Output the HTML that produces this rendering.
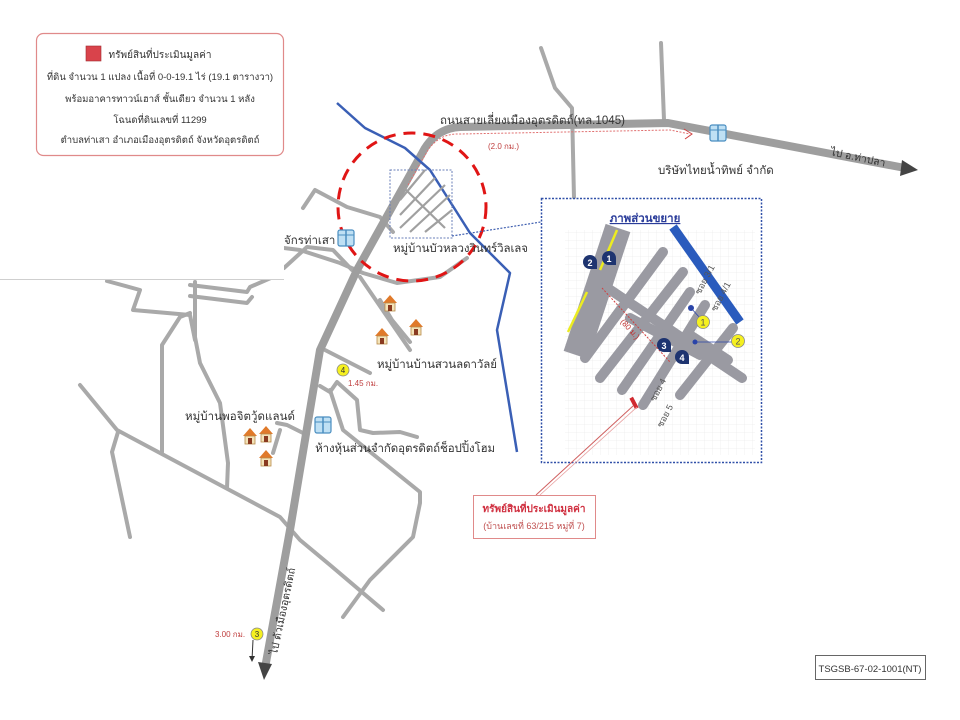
<!DOCTYPE html>
<html><head><meta charset="utf-8"><style>
html,body{margin:0;padding:0;background:#fff;}
svg{display:block}
text{font-family:"Liberation Sans","Noto Sans CJK SC",sans-serif;}
</style></head><body>
<svg width="960" height="720" viewBox="0 0 960 720" xmlns="http://www.w3.org/2000/svg">
<defs>
<g id="house"><polygon points="-7,0 0,-8 7,0" fill="#e07a2a"/><rect x="-5" y="0" width="10" height="8" fill="#f3e3b8" stroke="#b88a4a" stroke-width="0.8"/><rect x="-2" y="2" width="4" height="6" fill="#8a3a20"/></g>
<g id="bld"><rect x="-8" y="-8" width="16" height="16" rx="2" fill="#bfe0f4" stroke="#4a8ec0" stroke-width="1.2"/><line x1="0" y1="-8" x2="0" y2="8" stroke="#4a8ec0" stroke-width="1.5"/><line x1="-8" y1="-3" x2="8" y2="-3" stroke="#4a8ec0" stroke-width="1"/></g>
<pattern id="grid" width="8" height="8" patternUnits="userSpaceOnUse"><path d="M8 0H0V8" fill="none" stroke="#ececec" stroke-width="0.8"/></pattern>
<clipPath id="inset"><rect x="542" y="199" width="219" height="263"/></clipPath>
</defs>
<g fill="none" stroke="#a9a9a9" stroke-width="4" stroke-linejoin="round" stroke-linecap="round">
<path d="M541,48 L555,88 L572,108 L574,198"/>
<path d="M661,43 L664,120"/>
<path d="M80,385 L117,430 L280,517 L300,540 L330,565 L383,610"/>
<path d="M118,432 L112,452 L130,537"/>
<path d="M162,452 L162,345 L180,317 L190,313"/>
<path d="M227,488 L228,463 L220,403 L200,363 L195,337 L195,282"/>
<path d="M107,281 L140,290 L133,310 L190,315 L195,340"/>
<path d="M190,285 L247,292 L250,287 L273,277"/>
<path d="M190,296 L247,303 L252,297"/>
<path d="M284,268 L307,247 L333,250 L352,270"/>
<path d="M303,208 L315,190 L347,207 L380,217 L393,232"/>
<path d="M284,248 L300,250 L340,263 L363,273 L397,283 L440,277 L467,258"/>
<path d="M360,277 L410,350"/>
<path d="M380,300 L392,320 L410,342"/>
<path d="M325,350 L370,373"/>
<path d="M320,386 L330,392 L337,382 L357,400 L360,430 L373,433 L400,432 L417,437"/>
<path d="M330,390 L343,430 L420,492 L420,503 L413,537 L370,580 L343,617"/>
<path d="M277,423 L287,425 L303,433"/>
<path d="M280,430 L273,453"/>
</g>
<path d="M265,668 L290,530 L320,350 L357,270 L425,148 Q438,128 460,127 L668,123 L905,168" fill="none" stroke="#9e9e9e" stroke-width="8" stroke-linejoin="round"/>
<polygon points="258,662 272,664 264,680" fill="#444"/>
<polygon points="902,160 918,170 900,176" fill="#444"/>
<path d="M408,185 L428,150 Q440,133 460,134 L670,130 L690,134" fill="none" stroke="#e07070" stroke-width="1" stroke-dasharray="2,1.5"/>
<path d="M684,129 L692,134 L685,139" fill="none" stroke="#d04040" stroke-width="1"/>
<path d="M337,103 L365,128 L405,148 L430,170 L470,233 L510,273 L497,330 L517,452" fill="none" stroke="#3a5fb5" stroke-width="2.5" stroke-linejoin="round"/>
<rect x="390" y="170" width="62" height="68" fill="none" stroke="#6a7fb8" stroke-width="1" stroke-dasharray="2,1.5"/>
<g stroke="#a0a0a0" stroke-width="2.2">
<line x1="400" y1="200" x2="425" y2="170"/><line x1="400" y1="215" x2="435" y2="178"/><line x1="400" y1="228" x2="445" y2="185"/><line x1="410" y1="232" x2="450" y2="195"/><line x1="425" y1="232" x2="452" y2="210"/>
<line x1="404" y1="188" x2="445" y2="228"/>
</g>
<rect x="346" y="232" width="2" height="10" fill="#c02020" transform="rotate(-30 347 237)"/>
<circle cx="412" cy="207" r="74" fill="none" stroke="#e01515" stroke-width="3" stroke-dasharray="12,8"/>
<rect x="0" y="0" width="284" height="279" fill="#fff"/>
<line x1="0" y1="279.5" x2="284" y2="279.5" stroke="#cfcfcf" stroke-width="1"/>
<rect x="36.5" y="33.5" width="247" height="122" rx="7" fill="#fff" stroke="#e08a8a" stroke-width="1.2"/>
<rect x="86" y="46" width="15" height="15" fill="#d9434b" stroke="#a02a30" stroke-width="0.6"/>
<g font-size="9.5" fill="#333" text-anchor="middle">
<text x="160" y="58" font-size="10">ทรัพย์สินที่ประเมินมูลค่า</text>
<text x="160" y="80">ที่ดิน จำนวน 1 แปลง เนื้อที่ 0-0-19.1 ไร่ (19.1 ตารางวา)</text>
<text x="160" y="102">พร้อมอาคารทาวน์เฮาส์ ชั้นเดียว จำนวน 1 หลัง</text>
<text x="160" y="123">โฉนดที่ดินเลขที่ 11299</text>
<text x="160" y="143">ตำบลท่าเสา  อำเภอเมืองอุตรดิตถ์  จังหวัดอุตรดิตถ์</text>
</g>
<use href="#bld" x="346" y="238"/><use href="#bld" x="323" y="425"/><use href="#bld" x="718" y="133"/>
<use href="#house" x="390" y="303"/><use href="#house" x="382" y="336"/><use href="#house" x="416" y="327"/>
<use href="#house" x="250" y="436"/><use href="#house" x="266" y="434"/><use href="#house" x="266" y="458"/>
<g font-size="11.5" fill="#333">
<text x="440" y="124" textLength="185">ถนนสายเลี่ยงเมืองอุตรดิตถ์(ทล.1045)</text>
<text x="658" y="174">บริษัทไทยน้ำทิพย์ จำกัด</text>
<text x="284" y="244">จักรท่าเสา</text>
<text x="393" y="252" textLength="135">หมู่บ้านบัวหลวงวินทร์วิลเลจ</text>
<text x="377" y="368" textLength="120">หมู่บ้านบ้านสวนลดาวัลย์</text>
<text x="185" y="420" textLength="110">หมู่บ้านพอจิตวู้ดแลนด์</text>
<text x="315" y="452" textLength="180">ห้างหุ้นส่วนจำกัดอุตรดิตถ์ช็อปปิ้งโฮม</text>
<text x="830" y="155" font-size="10.5" transform="rotate(12 830 155)">ไป อ.ท่าปลา</text>
<text x="277" y="655" font-size="10.5" transform="rotate(-78 277 655)">ไป ตัวเมืองอุตรดิตถ์</text>
</g>
<g font-size="8" fill="#c04040">
<text x="488" y="149">(2.0 กม.)</text>
<text x="348" y="386">1.45 กม.</text>
<text x="215" y="637">3.00 กม.</text>
</g>
<circle cx="343" cy="370" r="6" fill="#f5f020" stroke="#888" stroke-width="0.8"/><text x="343" y="373" font-size="8" text-anchor="middle" fill="#333">4</text>
<circle cx="257" cy="634" r="6" fill="#f5f020" stroke="#888" stroke-width="0.8"/><text x="257" y="637" font-size="8" text-anchor="middle" fill="#333">3</text>
<path d="M253,640 L252,660" stroke="#333" stroke-width="1"/><polygon points="249,656 255,656 252,662" fill="#333"/>
<path d="M452,236 L541,222" stroke="#4060b0" stroke-width="1.2" stroke-dasharray="2,1.5"/>
<rect x="541.5" y="198.5" width="220" height="264" fill="#fff" stroke="#3050a8" stroke-width="1.5" stroke-dasharray="2,1.5"/>
<rect x="565" y="230" width="190" height="225" fill="url(#grid)"/>
<text x="645" y="222" font-size="11.5" font-weight="bold" fill="#2a3c9a" text-anchor="middle" text-decoration="underline">ภาพส่วนขยาย</text>
<g clip-path="url(#inset)">
<line x1="618" y1="228" x2="576" y2="355" stroke="#9a9aa2" stroke-width="26"/>
<line x1="617" y1="230" x2="600" y2="270" stroke="#ecec20" stroke-width="2.5"/>
<line x1="587" y1="292" x2="568" y2="332" stroke="#ecec20" stroke-width="2.5"/>
<line x1="673" y1="227" x2="740" y2="322" stroke="#2a5bbd" stroke-width="9"/>
<g stroke="#9a9aa2" stroke-width="10" stroke-linecap="round">
<line x1="603" y1="285" x2="742" y2="378"/>
<line x1="663" y1="252" x2="585" y2="358"/>
<line x1="683" y1="272" x2="600" y2="378"/>
<line x1="690" y1="292" x2="622" y2="390"/>
<line x1="705" y1="305" x2="643" y2="405"/>
<line x1="733" y1="328" x2="680" y2="395"/>
<line x1="690" y1="335" x2="728" y2="360"/>
<line x1="630" y1="318" x2="700" y2="355"/>
</g>
</g>
<path d="M602,288 L670,362" stroke="#d04040" stroke-width="1" stroke-dasharray="2,1.5"/>
<text x="620" y="322" font-size="8" fill="#c03030" transform="rotate(48 620 322)">(80 ม.)</text>
<g font-size="9" fill="#555">
<text x="700" y="295" transform="rotate(-62 700 295)">ซอย 3/1</text>
<text x="716" y="312" transform="rotate(-62 716 312)">ซอย 4/1</text>
<text x="655" y="402" transform="rotate(-62 655 402)">ซอย 4</text>
<text x="662" y="428" transform="rotate(-62 662 428)">ซอย 5</text>
</g>
<rect x="632" y="397" width="4" height="12" fill="#d02a30" transform="rotate(-28 634 403)"/>
<g font-size="9" fill="#fff" text-anchor="middle" font-weight="bold">
<path d="M583,262 a7,7 0 1,1 14,0 l0,7 l-7,0 a7,7 0 0,1 -7,-7z" fill="#1e3470"/><text x="590" y="266">2</text>
<path d="M602,258 a7,7 0 1,1 14,0 l0,7 l-7,0 a7,7 0 0,1 -7,-7z" fill="#1e3470"/><text x="609" y="262">1</text>
<path d="M657,345 a7,7 0 1,1 14,0 l0,7 l-7,0 a7,7 0 0,1 -7,-7z" fill="#1e3470"/><text x="664" y="349">3</text>
<path d="M675,357 a7,7 0 1,1 14,0 l0,7 l-7,0 a7,7 0 0,1 -7,-7z" fill="#1e3470"/><text x="682" y="361">4</text>
</g>
<circle cx="691" cy="308" r="3" fill="#2a44a8"/><circle cx="695" cy="342" r="2.5" fill="#2a44a8"/>
<line x1="691" y1="308" x2="700" y2="318" stroke="#2a44a8" stroke-width="0.8"/>
<line x1="695" y1="342" x2="732" y2="342" stroke="#2a44a8" stroke-width="0.8"/>
<circle cx="703" cy="322" r="6.5" fill="#f5f020" stroke="#888" stroke-width="0.8"/><text x="703" y="325.5" font-size="9" text-anchor="middle" fill="#555">1</text>
<circle cx="738" cy="341" r="6.5" fill="#f5f020" stroke="#888" stroke-width="0.8"/><text x="738" y="344.5" font-size="9" text-anchor="middle" fill="#555">2</text>
<path d="M633,406 L536,495" stroke="#d06060" stroke-width="1"/>
<path d="M637,407 L540,495" stroke="#e8a0a0" stroke-width="0.8"/>
<rect x="473.5" y="495.5" width="122" height="43" fill="#fff" stroke="#e08a8a" stroke-width="1"/>
<text x="534" y="512" font-size="10" font-weight="bold" fill="#d03040" text-anchor="middle">ทรัพย์สินที่ประเมินมูลค่า</text>
<text x="534" y="529" font-size="9" fill="#c05050" text-anchor="middle">(บ้านเลขที่ 63/215 หมู่ที่ 7)</text>
<rect x="815.5" y="655.5" width="110" height="24" fill="#fff" stroke="#666" stroke-width="1"/>
<text x="870" y="672" font-size="9.5" fill="#333" text-anchor="middle">TSGSB-67-02-1001(NT)</text>
</svg>
</body></html>
